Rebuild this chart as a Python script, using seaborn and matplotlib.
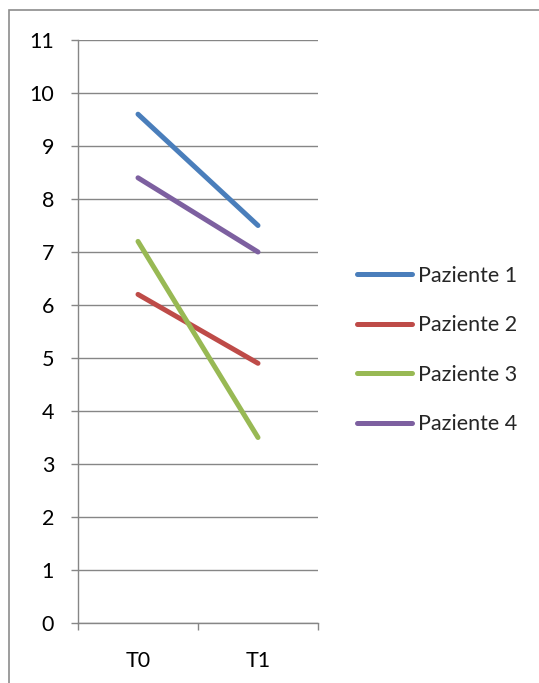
import matplotlib
matplotlib.use("Agg")
import matplotlib.pyplot as plt
import seaborn as sns
import pandas as pd
from matplotlib.patches import Rectangle
from matplotlib.ticker import FixedLocator

timepoints = ["T0", "T1"]
patients = ["Paziente 1", "Paziente 2", "Paziente 3", "Paziente 4"]
paziente_1 = [9.6, 7.5]
paziente_2 = [6.2, 4.9]
paziente_3 = [7.2, 3.5]
paziente_4 = [8.4, 7.0]
y_ticks = list(range(0, 12))

colors = ["#4A7EBB", "#BE4B48", "#98B954", "#7D60A0"]

rows = []
for name, vals in zip(patients, [paziente_1, paziente_2, paziente_3, paziente_4]):
    for t, v in zip(timepoints, vals):
        rows.append({"Zeit": t, "Wert": v, "Patient": name})
df = pd.DataFrame(rows)

sns.set_theme(style="white")
plt.rcParams["font.family"] = ["Lato", "DejaVu Sans"]

W, H = 539, 683
fig = plt.figure(figsize=(W / 100, H / 100), dpi=100)
ax = fig.add_axes([78 / W, 1 - 623 / H, (318 - 78) / W, (623 - 40) / H])

sns.lineplot(data=df, x="Zeit", y="Wert", hue="Patient", hue_order=patients,
             palette=colors, linewidth=3.6, ax=ax, sort=False,
             solid_capstyle="round", legend=True)

ax.set_xlim(-0.5, 1.5)
ax.set_ylim(0, 11)
ax.set_yticks(y_ticks)
ax.set_yticklabels([str(t) for t in y_ticks])
ax.set_xticks([0, 1])
ax.set_xticklabels(timepoints)
ax.xaxis.set_minor_locator(FixedLocator([-0.5, 0.5, 1.5]))
ax.set_xlabel("")
ax.set_ylabel("")

grid_c = "#868686"
ax.yaxis.grid(True, color=grid_c, linewidth=1.0)
ax.set_axisbelow(True)
for s in ["top", "right"]:
    ax.spines[s].set_visible(False)
for s in ["left", "bottom"]:
    ax.spines[s].set_color(grid_c)
    ax.spines[s].set_linewidth(1.0)

fs = 15.5
ax.tick_params(axis="y", which="major", direction="out", length=5.2, width=1,
               color=grid_c, left=True, labelsize=fs, pad=12, labelcolor="black")
ax.tick_params(axis="x", which="major", length=0, labelsize=fs, pad=20,
               labelcolor="black")
ax.tick_params(axis="x", which="minor", direction="out", length=5.2, width=1,
               color=grid_c, bottom=True)

leg = ax.legend(loc="center left", bbox_to_anchor=(357 / W, 1 - 350 / H),
                bbox_transform=fig.transFigure, frameon=False, fontsize=fs,
                handlelength=2.55, handletextpad=0.28, labelspacing=1.37,
                borderaxespad=0, borderpad=0)
for line in leg.get_lines():
    line.set_linewidth(3.6)
    line.set_solid_capstyle("round")

fig.patches.append(Rectangle((9 / W, -0.1), 1.2, 1 - 10 / H + 0.1,
                             transform=fig.transFigure, fill=False,
                             edgecolor="#8C8C8C", linewidth=1.2))

fig.savefig("out.png", dpi=100)
